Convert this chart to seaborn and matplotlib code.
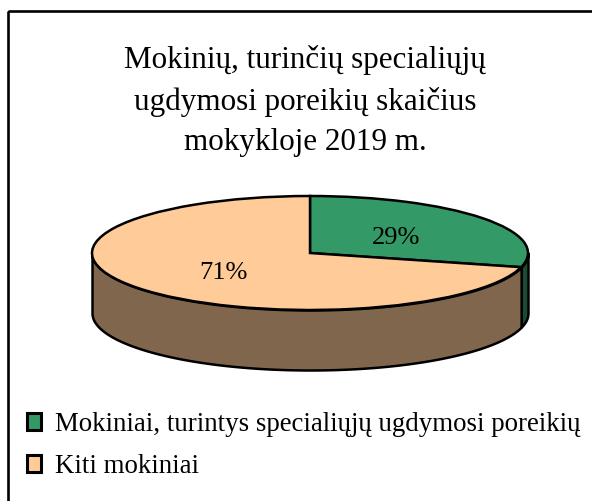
import numpy as np
import matplotlib
matplotlib.use("Agg")
import matplotlib.pyplot as plt
from matplotlib.patches import Patch, Rectangle
import seaborn as sns

categories = ["Mokiniai, turintys specialiųjų ugdymosi poreikių", "Kiti mokiniai"]
shares = [29, 71]
title = "Mokinių, turinčių specialiųjų\nugdymosi poreikių skaičius\nmokykloje 2019 m."

top_colors = ["#339966", "#FFCC99"]
side_colors = ["#194C33", "#7F664C"]

W, H = 592, 501
cx, cy, rx, ry = 310, 253, 218, 57
depth = 60 / ry

sns.set_theme(style="white")
plt.rcParams["font.family"] = ["Liberation Serif", "DejaVu Serif"]

fig = plt.figure(figsize=(W / 100, H / 100), dpi=100, facecolor="white")
ax = fig.add_axes([0, 0, 1, 1])

# outer chart frame, right and bottom edges run off the picture
fig.add_artist(Rectangle((8 / W, 1 - 11 / H), 2, -2, transform=fig.transFigure,
                         fill=False, edgecolor="black", linewidth=1.9))

wedges, texts, autotexts = ax.pie(shares, colors=top_colors, startangle=90, counterclock=False,
                                  autopct="%.0f%%", pctdistance=0.5,
                                  wedgeprops=dict(edgecolor="black", linewidth=1.8, zorder=3),
                                  textprops=dict(color="black", fontsize=19, zorder=4))
for t in autotexts:
    t.set_verticalalignment("center_baseline")

# side wall of the disc, only the front half is visible
ends = 90 - 360 * np.cumsum(shares) / np.sum(shares)
starts = np.concatenate(([90], ends[:-1]))
for a, b, c in zip(starts, ends, side_colors):
    lo, hi = min(a, b), max(a, b)
    # wrap into the front half (180..360 degrees)
    t = np.linspace(lo, hi, 300) % 360
    t = np.sort(t[t >= 180])
    if len(t) == 0:
        continue
    x = np.cos(np.radians(t))
    y = np.sin(np.radians(t))
    ax.fill_between(x, y, y - depth, facecolor=c, edgecolor="black", linewidth=1.8, zorder=1)

ax.set_aspect("auto")
ax.set_xlim(-cx / rx, (W - cx) / rx)
ax.set_ylim((cy - H) / ry, cy / ry)
ax.axis("off")

fig.text(305 / W, 1 - 101 / H, title, ha="center", va="center", ma="center",
         fontsize=22.4, linespacing=1.53, color="black")

handles = [Patch(facecolor=c, edgecolor="black", linewidth=2.2) for c in top_colors]
fig.legend(handles, categories, loc="upper left", bbox_to_anchor=(26.5 / W, 1 - 412 / H),
           bbox_transform=fig.transFigure, frameon=False, fontsize=19.4, labelcolor="black",
           handlelength=0.55, handleheight=0.55, handletextpad=0.5, labelspacing=0.63,
           borderpad=0, borderaxespad=0)

fig.savefig("out.png", dpi=100)
